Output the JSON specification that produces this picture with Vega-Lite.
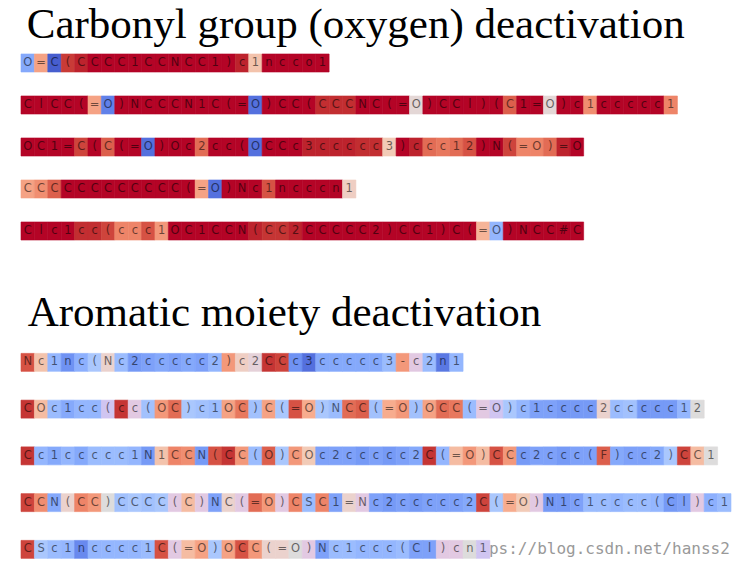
{
"$schema":"https://vega.github.io/schema/vega-lite/v6.json",
"background":"white",
"padding":{"left":20,"top":4,"right":0,"bottom":0},
"config":{"view":{"stroke":null},"concat":{"spacing":40},"title":{"font":"Liberation Serif","fontSize":43,"fontWeight":"normal","anchor":"start","color":"#000"}},
"datasets":{
"a":[
{"r":1,"i":0,"c":"O","v":-0.45},{"r":1,"i":1,"c":"=","v":0.45},{"r":1,"i":2,"c":"C","v":-0.9},{"r":1,"i":3,"c":"(","v":0.88},{"r":1,"i":4,"c":"C","v":0.95},{"r":1,"i":5,"c":"C","v":1},{"r":1,"i":6,"c":"C","v":1},{"r":1,"i":7,"c":"C","v":1},{"r":1,"i":8,"c":"1","v":1},{"r":1,"i":9,"c":"C","v":1},{"r":1,"i":10,"c":"C","v":1},{"r":1,"i":11,"c":"N","v":1},{"r":1,"i":12,"c":"C","v":1},{"r":1,"i":13,"c":"C","v":1},{"r":1,"i":14,"c":"1","v":1},{"r":1,"i":15,"c":")","v":1},{"r":1,"i":16,"c":"c","v":0.95},{"r":1,"i":17,"c":"1","v":0.25},{"r":1,"i":18,"c":"n","v":1},{"r":1,"i":19,"c":"c","v":1},{"r":1,"i":20,"c":"c","v":1},{"r":1,"i":21,"c":"o","v":1},{"r":1,"i":22,"c":"1","v":1},
{"r":2,"i":0,"c":"C","v":1},{"r":2,"i":1,"c":"l","v":1},{"r":2,"i":2,"c":"C","v":1},{"r":2,"i":3,"c":"C","v":1},{"r":2,"i":4,"c":"(","v":1},{"r":2,"i":5,"c":"=","v":0.45},{"r":2,"i":6,"c":"O","v":-0.7},{"r":2,"i":7,"c":")","v":1},{"r":2,"i":8,"c":"N","v":1},{"r":2,"i":9,"c":"C","v":1},{"r":2,"i":10,"c":"C","v":1},{"r":2,"i":11,"c":"C","v":1},{"r":2,"i":12,"c":"N","v":1},{"r":2,"i":13,"c":"1","v":1},{"r":2,"i":14,"c":"C","v":1},{"r":2,"i":15,"c":"(","v":1},{"r":2,"i":16,"c":"=","v":1},{"r":2,"i":17,"c":"O","v":-0.8},{"r":2,"i":18,"c":")","v":1},{"r":2,"i":19,"c":"C","v":1},{"r":2,"i":20,"c":"C","v":1},{"r":2,"i":21,"c":"(","v":1},{"r":2,"i":22,"c":"C","v":0.92},{"r":2,"i":23,"c":"C","v":0.92},{"r":2,"i":24,"c":"C","v":0.92},{"r":2,"i":25,"c":"N","v":1},{"r":2,"i":26,"c":"C","v":1},{"r":2,"i":27,"c":"(","v":1},{"r":2,"i":28,"c":"=","v":1},{"r":2,"i":29,"c":"O","v":0.05},{"r":2,"i":30,"c":")","v":1},{"r":2,"i":31,"c":"C","v":1},{"r":2,"i":32,"c":"C","v":1},{"r":2,"i":33,"c":"l","v":1},{"r":2,"i":34,"c":")","v":1},{"r":2,"i":35,"c":"(","v":1},{"r":2,"i":36,"c":"C","v":0.75},{"r":2,"i":37,"c":"1","v":1},{"r":2,"i":38,"c":"=","v":1},{"r":2,"i":39,"c":"O","v":0.05},{"r":2,"i":40,"c":")","v":1},{"r":2,"i":41,"c":"c","v":1},{"r":2,"i":42,"c":"1","v":0.55},{"r":2,"i":43,"c":"c","v":1},{"r":2,"i":44,"c":"c","v":1},{"r":2,"i":45,"c":"c","v":1},{"r":2,"i":46,"c":"c","v":1},{"r":2,"i":47,"c":"c","v":1},{"r":2,"i":48,"c":"1","v":0.6},
{"r":3,"i":0,"c":"O","v":1},{"r":3,"i":1,"c":"C","v":1},{"r":3,"i":2,"c":"1","v":1},{"r":3,"i":3,"c":"=","v":1},{"r":3,"i":4,"c":"C","v":0.85},{"r":3,"i":5,"c":"(","v":1},{"r":3,"i":6,"c":"C","v":0.75},{"r":3,"i":7,"c":"(","v":1},{"r":3,"i":8,"c":"=","v":1},{"r":3,"i":9,"c":"O","v":-0.8},{"r":3,"i":10,"c":")","v":1},{"r":3,"i":11,"c":"O","v":1},{"r":3,"i":12,"c":"c","v":1},{"r":3,"i":13,"c":"2","v":0.7},{"r":3,"i":14,"c":"c","v":1},{"r":3,"i":15,"c":"c","v":1},{"r":3,"i":16,"c":"(","v":1},{"r":3,"i":17,"c":"O","v":-0.8},{"r":3,"i":18,"c":"C","v":1},{"r":3,"i":19,"c":"C","v":1},{"r":3,"i":20,"c":"c","v":1},{"r":3,"i":21,"c":"3","v":0.95},{"r":3,"i":22,"c":"c","v":0.95},{"r":3,"i":23,"c":"c","v":0.95},{"r":3,"i":24,"c":"c","v":0.95},{"r":3,"i":25,"c":"c","v":0.92},{"r":3,"i":26,"c":"c","v":0.92},{"r":3,"i":27,"c":"3","v":0.2},{"r":3,"i":28,"c":")","v":1},{"r":3,"i":29,"c":"c","v":0.95},{"r":3,"i":30,"c":"c","v":0.7},{"r":3,"i":31,"c":"c","v":0.65},{"r":3,"i":32,"c":"1","v":0.7},{"r":3,"i":33,"c":"2","v":0.8},{"r":3,"i":34,"c":")","v":1},{"r":3,"i":35,"c":"N","v":1},{"r":3,"i":36,"c":"(","v":0.85},{"r":3,"i":37,"c":"=","v":0.6},{"r":3,"i":38,"c":"O","v":0.6},{"r":3,"i":39,"c":")","v":0.7},{"r":3,"i":40,"c":"=","v":0.95},{"r":3,"i":41,"c":"O","v":1},
{"r":4,"i":0,"c":"C","v":0.45},{"r":4,"i":1,"c":"C","v":0.55},{"r":4,"i":2,"c":"C","v":0.75},{"r":4,"i":3,"c":"C","v":1},{"r":4,"i":4,"c":"C","v":1},{"r":4,"i":5,"c":"C","v":1},{"r":4,"i":6,"c":"C","v":1},{"r":4,"i":7,"c":"C","v":1},{"r":4,"i":8,"c":"C","v":1},{"r":4,"i":9,"c":"C","v":1},{"r":4,"i":10,"c":"C","v":1},{"r":4,"i":11,"c":"C","v":1},{"r":4,"i":12,"c":"(","v":1},{"r":4,"i":13,"c":"=","v":0.45},{"r":4,"i":14,"c":"O","v":-0.8},{"r":4,"i":15,"c":")","v":1},{"r":4,"i":16,"c":"N","v":1},{"r":4,"i":17,"c":"c","v":1},{"r":4,"i":18,"c":"1","v":0.8},{"r":4,"i":19,"c":"n","v":1},{"r":4,"i":20,"c":"c","v":1},{"r":4,"i":21,"c":"c","v":1},{"r":4,"i":22,"c":"c","v":1},{"r":4,"i":23,"c":"n","v":1},{"r":4,"i":24,"c":"1","v":0.15},
{"r":5,"i":0,"c":"C","v":1},{"r":5,"i":1,"c":"l","v":1},{"r":5,"i":2,"c":"c","v":1},{"r":5,"i":3,"c":"1","v":1},{"r":5,"i":4,"c":"c","v":0.92},{"r":5,"i":5,"c":"c","v":0.92},{"r":5,"i":6,"c":"(","v":0.85},{"r":5,"i":7,"c":"c","v":0.6},{"r":5,"i":8,"c":"c","v":0.6},{"r":5,"i":9,"c":"c","v":0.8},{"r":5,"i":10,"c":"1","v":0.5},{"r":5,"i":11,"c":"O","v":1},{"r":5,"i":12,"c":"C","v":1},{"r":5,"i":13,"c":"1","v":1},{"r":5,"i":14,"c":"C","v":1},{"r":5,"i":15,"c":"C","v":1},{"r":5,"i":16,"c":"N","v":1},{"r":5,"i":17,"c":"(","v":0.95},{"r":5,"i":18,"c":"C","v":0.9},{"r":5,"i":19,"c":"C","v":0.9},{"r":5,"i":20,"c":"2","v":0.95},{"r":5,"i":21,"c":"C","v":1},{"r":5,"i":22,"c":"C","v":1},{"r":5,"i":23,"c":"C","v":1},{"r":5,"i":24,"c":"C","v":1},{"r":5,"i":25,"c":"C","v":1},{"r":5,"i":26,"c":"2","v":1},{"r":5,"i":27,"c":")","v":1},{"r":5,"i":28,"c":"C","v":1},{"r":5,"i":29,"c":"C","v":1},{"r":5,"i":30,"c":"1","v":1},{"r":5,"i":31,"c":")","v":1},{"r":5,"i":32,"c":"C","v":1},{"r":5,"i":33,"c":"(","v":1},{"r":5,"i":34,"c":"=","v":0.35},{"r":5,"i":35,"c":"O","v":-0.35},{"r":5,"i":36,"c":")","v":1},{"r":5,"i":37,"c":"N","v":1},{"r":5,"i":38,"c":"C","v":1},{"r":5,"i":39,"c":"C","v":1},{"r":5,"i":40,"c":"#","v":1},{"r":5,"i":41,"c":"C","v":1}
],
"b":[
{"r":6,"i":0,"c":"N","v":0.8},{"r":6,"i":1,"c":"c","v":0.25},{"r":6,"i":2,"c":"1","v":-0.35},{"r":6,"i":3,"c":"n","v":-0.6},{"r":6,"i":4,"c":"c","v":-0.4},{"r":6,"i":5,"c":"(","v":-0.2},{"r":6,"i":6,"c":"N","v":0.1},{"r":6,"i":7,"c":"c","v":-0.3},{"r":6,"i":8,"c":"2","v":-0.55},{"r":6,"i":9,"c":"c","v":-0.5},{"r":6,"i":10,"c":"c","v":-0.45},{"r":6,"i":11,"c":"c","v":-0.5},{"r":6,"i":12,"c":"c","v":-0.45},{"r":6,"i":13,"c":"c","v":-0.5},{"r":6,"i":14,"c":"2","v":-0.35},{"r":6,"i":15,"c":")","v":0.5},{"r":6,"i":16,"c":"c","v":0.15},{"r":6,"i":17,"c":"2","v":-0.05},{"r":6,"i":18,"c":"C","v":0.9},{"r":6,"i":19,"c":"C","v":0.85},{"r":6,"i":20,"c":"c","v":-0.6},{"r":6,"i":21,"c":"3","v":-0.8},{"r":6,"i":22,"c":"c","v":-0.45},{"r":6,"i":23,"c":"c","v":-0.45},{"r":6,"i":24,"c":"c","v":-0.45},{"r":6,"i":25,"c":"c","v":-0.45},{"r":6,"i":26,"c":"c","v":-0.45},{"r":6,"i":27,"c":"3","v":-0.3},{"r":6,"i":28,"c":"-","v":0.5},{"r":6,"i":29,"c":"c","v":-0.1},{"r":6,"i":30,"c":"2","v":-0.3},{"r":6,"i":31,"c":"n","v":-0.75},{"r":6,"i":32,"c":"1","v":-0.35},
{"r":7,"i":0,"c":"C","v":0.9},{"r":7,"i":1,"c":"O","v":0.3},{"r":7,"i":2,"c":"c","v":-0.3},{"r":7,"i":3,"c":"1","v":-0.45},{"r":7,"i":4,"c":"c","v":-0.35},{"r":7,"i":5,"c":"c","v":-0.35},{"r":7,"i":6,"c":"(","v":-0.15},{"r":7,"i":7,"c":"c","v":0.9},{"r":7,"i":8,"c":"c","v":-0.1},{"r":7,"i":9,"c":"(","v":-0.25},{"r":7,"i":10,"c":"O","v":0.5},{"r":7,"i":11,"c":"C","v":0.7},{"r":7,"i":12,"c":")","v":-0.2},{"r":7,"i":13,"c":"c","v":-0.25},{"r":7,"i":14,"c":"1","v":-0.3},{"r":7,"i":15,"c":"O","v":0.45},{"r":7,"i":16,"c":"C","v":0.65},{"r":7,"i":17,"c":")","v":-0.25},{"r":7,"i":18,"c":"C","v":0.45},{"r":7,"i":19,"c":"(","v":-0.2},{"r":7,"i":20,"c":"=","v":0.8},{"r":7,"i":21,"c":"O","v":0.4},{"r":7,"i":22,"c":")","v":-0.2},{"r":7,"i":23,"c":"N","v":-0.3},{"r":7,"i":24,"c":"C","v":0.7},{"r":7,"i":25,"c":"C","v":0.75},{"r":7,"i":26,"c":"(","v":-0.25},{"r":7,"i":27,"c":"=","v":0.4},{"r":7,"i":28,"c":"O","v":0.5},{"r":7,"i":29,"c":")","v":-0.25},{"r":7,"i":30,"c":"O","v":0.45},{"r":7,"i":31,"c":"C","v":0.7},{"r":7,"i":32,"c":"C","v":0.65},{"r":7,"i":33,"c":"(","v":-0.3},{"r":7,"i":34,"c":"=","v":-0.1},{"r":7,"i":35,"c":"O","v":-0.15},{"r":7,"i":36,"c":")","v":-0.2},{"r":7,"i":37,"c":"c","v":-0.35},{"r":7,"i":38,"c":"1","v":-0.5},{"r":7,"i":39,"c":"c","v":-0.5},{"r":7,"i":40,"c":"c","v":-0.55},{"r":7,"i":41,"c":"c","v":-0.55},{"r":7,"i":42,"c":"c","v":-0.55},{"r":7,"i":43,"c":"2","v":0.1},{"r":7,"i":44,"c":"c","v":-0.3},{"r":7,"i":45,"c":"c","v":-0.25},{"r":7,"i":46,"c":"c","v":-0.55},{"r":7,"i":47,"c":"c","v":-0.55},{"r":7,"i":48,"c":"c","v":-0.55},{"r":7,"i":49,"c":"1","v":-0.35},{"r":7,"i":50,"c":"2","v":0.0},
{"r":8,"i":0,"c":"C","v":0.9},{"r":8,"i":1,"c":"c","v":-0.35},{"r":8,"i":2,"c":"1","v":-0.45},{"r":8,"i":3,"c":"c","v":-0.35},{"r":8,"i":4,"c":"c","v":-0.45},{"r":8,"i":5,"c":"c","v":-0.3},{"r":8,"i":6,"c":"c","v":-0.3},{"r":8,"i":7,"c":"c","v":-0.3},{"r":8,"i":8,"c":"1","v":-0.35},{"r":8,"i":9,"c":"N","v":-0.55},{"r":8,"i":10,"c":"1","v":0.25},{"r":8,"i":11,"c":"C","v":0.6},{"r":8,"i":12,"c":"C","v":0.55},{"r":8,"i":13,"c":"N","v":-0.55},{"r":8,"i":14,"c":"(","v":0.8},{"r":8,"i":15,"c":"C","v":0.9},{"r":8,"i":16,"c":"C","v":0.5},{"r":8,"i":17,"c":"(","v":-0.3},{"r":8,"i":18,"c":"O","v":0.75},{"r":8,"i":19,"c":")","v":-0.2},{"r":8,"i":20,"c":"C","v":0.5},{"r":8,"i":21,"c":"O","v":0.2},{"r":8,"i":22,"c":"c","v":-0.5},{"r":8,"i":23,"c":"2","v":-0.5},{"r":8,"i":24,"c":"c","v":-0.5},{"r":8,"i":25,"c":"c","v":-0.55},{"r":8,"i":26,"c":"c","v":-0.5},{"r":8,"i":27,"c":"c","v":-0.55},{"r":8,"i":28,"c":"c","v":-0.5},{"r":8,"i":29,"c":"2","v":-0.45},{"r":8,"i":30,"c":"C","v":0.9},{"r":8,"i":31,"c":"(","v":-0.35},{"r":8,"i":32,"c":"=","v":0.3},{"r":8,"i":33,"c":"O","v":0.5},{"r":8,"i":34,"c":")","v":0.3},{"r":8,"i":35,"c":"C","v":0.8},{"r":8,"i":36,"c":"C","v":0.5},{"r":8,"i":37,"c":"c","v":-0.55},{"r":8,"i":38,"c":"2","v":-0.5},{"r":8,"i":39,"c":"c","v":-0.5},{"r":8,"i":40,"c":"c","v":-0.55},{"r":8,"i":41,"c":"c","v":-0.5},{"r":8,"i":42,"c":"(","v":-0.5},{"r":8,"i":43,"c":"F","v":0.75},{"r":8,"i":44,"c":")","v":-0.45},{"r":8,"i":45,"c":"c","v":-0.5},{"r":8,"i":46,"c":"c","v":-0.5},{"r":8,"i":47,"c":"2","v":-0.45},{"r":8,"i":48,"c":")","v":-0.2},{"r":8,"i":49,"c":"C","v":0.85},{"r":8,"i":50,"c":"C","v":0.3},{"r":8,"i":51,"c":"1","v":0.0},
{"r":9,"i":0,"c":"C","v":0.85},{"r":9,"i":1,"c":"C","v":0.55},{"r":9,"i":2,"c":"N","v":-0.45},{"r":9,"i":3,"c":"(","v":0.1},{"r":9,"i":4,"c":"C","v":0.6},{"r":9,"i":5,"c":"C","v":0.5},{"r":9,"i":6,"c":")","v":0.0},{"r":9,"i":7,"c":"C","v":-0.25},{"r":9,"i":8,"c":"C","v":-0.2},{"r":9,"i":9,"c":"C","v":-0.25},{"r":9,"i":10,"c":"C","v":-0.2},{"r":9,"i":11,"c":"(","v":-0.1},{"r":9,"i":12,"c":"C","v":0.3},{"r":9,"i":13,"c":")","v":-0.1},{"r":9,"i":14,"c":"N","v":-0.5},{"r":9,"i":15,"c":"C","v":0.1},{"r":9,"i":16,"c":"(","v":-0.1},{"r":9,"i":17,"c":"=","v":0.7},{"r":9,"i":18,"c":"O","v":0.5},{"r":9,"i":19,"c":")","v":-0.1},{"r":9,"i":20,"c":"C","v":0.6},{"r":9,"i":21,"c":"S","v":-0.3},{"r":9,"i":22,"c":"C","v":0.6},{"r":9,"i":23,"c":"1","v":-0.5},{"r":9,"i":24,"c":"=","v":0.1},{"r":9,"i":25,"c":"N","v":-0.1},{"r":9,"i":26,"c":"c","v":-0.5},{"r":9,"i":27,"c":"2","v":-0.55},{"r":9,"i":28,"c":"c","v":-0.5},{"r":9,"i":29,"c":"c","v":-0.55},{"r":9,"i":30,"c":"c","v":-0.5},{"r":9,"i":31,"c":"c","v":-0.5},{"r":9,"i":32,"c":"c","v":-0.5},{"r":9,"i":33,"c":"2","v":-0.45},{"r":9,"i":34,"c":"C","v":0.85},{"r":9,"i":35,"c":"(","v":-0.2},{"r":9,"i":36,"c":"=","v":0.4},{"r":9,"i":37,"c":"O","v":0.2},{"r":9,"i":38,"c":")","v":-0.1},{"r":9,"i":39,"c":"N","v":-0.55},{"r":9,"i":40,"c":"1","v":-0.55},{"r":9,"i":41,"c":"c","v":-0.5},{"r":9,"i":42,"c":"1","v":-0.3},{"r":9,"i":43,"c":"c","v":-0.3},{"r":9,"i":44,"c":"c","v":-0.35},{"r":9,"i":45,"c":"c","v":-0.3},{"r":9,"i":46,"c":"c","v":-0.3},{"r":9,"i":47,"c":"(","v":-0.35},{"r":9,"i":48,"c":"C","v":-0.55},{"r":9,"i":49,"c":"l","v":-0.5},{"r":9,"i":50,"c":")","v":-0.1},{"r":9,"i":51,"c":"c","v":-0.4},{"r":9,"i":52,"c":"1","v":-0.3},
{"r":10,"i":0,"c":"C","v":0.85},{"r":10,"i":1,"c":"S","v":-0.2},{"r":10,"i":2,"c":"c","v":-0.3},{"r":10,"i":3,"c":"1","v":-0.35},{"r":10,"i":4,"c":"n","v":-0.65},{"r":10,"i":5,"c":"c","v":-0.35},{"r":10,"i":6,"c":"c","v":-0.35},{"r":10,"i":7,"c":"c","v":-0.35},{"r":10,"i":8,"c":"c","v":-0.35},{"r":10,"i":9,"c":"1","v":-0.3},{"r":10,"i":10,"c":"C","v":0.8},{"r":10,"i":11,"c":"(","v":-0.1},{"r":10,"i":12,"c":"=","v":0.3},{"r":10,"i":13,"c":"O","v":0.45},{"r":10,"i":14,"c":")","v":-0.2},{"r":10,"i":15,"c":"O","v":0.45},{"r":10,"i":16,"c":"C","v":0.8},{"r":10,"i":17,"c":"C","v":0.5},{"r":10,"i":18,"c":"(","v":0.1},{"r":10,"i":19,"c":"=","v":0.1},{"r":10,"i":20,"c":"O","v":0.0},{"r":10,"i":21,"c":")","v":-0.1},{"r":10,"i":22,"c":"N","v":-0.5},{"r":10,"i":23,"c":"c","v":-0.3},{"r":10,"i":24,"c":"1","v":-0.3},{"r":10,"i":25,"c":"c","v":-0.35},{"r":10,"i":26,"c":"c","v":-0.35},{"r":10,"i":27,"c":"c","v":-0.35},{"r":10,"i":28,"c":"(","v":-0.3},{"r":10,"i":29,"c":"C","v":-0.5},{"r":10,"i":30,"c":"l","v":-0.5},{"r":10,"i":31,"c":")","v":-0.1},{"r":10,"i":32,"c":"c","v":-0.1},{"r":10,"i":33,"c":"n","v":0.0},{"r":10,"i":34,"c":"1","v":-0.15}
],
"w":[{"r":10,"i":33,"t":"https://blog.csdn.net/hanss2"}]
},
"vconcat":[
{
"title":{"text":"Carbonyl group (oxygen) deactivation","offset":-5,"dx":6},
"data":{"name":"a"},
"width":710,
"height":{"step":42},
"encoding":{
"x":{"field":"i","type":"ordinal","axis":null,"scale":{"domain":[0,1,2,3,4,5,6,7,8,9,10,11,12,13,14,15,16,17,18,19,20,21,22,23,24,25,26,27,28,29,30,31,32,33,34,35,36,37,38,39,40,41,42,43,44,45,46,47,48,49,50,51,52],"paddingInner":0,"paddingOuter":0}},
"y":{"field":"r","type":"ordinal","axis":null,"scale":{"paddingInner":0.57,"paddingOuter":0.285}}
},
"layer":[
{"mark":{"type":"rect","strokeWidth":0.6},
"encoding":{
"color":{"field":"v","type":"quantitative","legend":null,"scale":{"type":"linear","domain":[-1,-0.8,-0.6,-0.4,-0.2,0,0.2,0.4,0.6,0.8,1],"range":["#3b4cc0","#5470de","#6f92f3","#8db0fe","#aac7fd","#dddcdc","#f2cbb7","#f7ac8e","#ee8468","#d65244","#b40426"]}},
"stroke":{"field":"v","type":"quantitative","legend":null,"scale":{"type":"linear","domain":[-1,-0.8,-0.6,-0.4,-0.2,0,0.2,0.4,0.6,0.8,1],"range":["#3b4cc0","#5470de","#6f92f3","#8db0fe","#aac7fd","#dddcdc","#f2cbb7","#f7ac8e","#ee8468","#d65244","#b40426"]}}
}},
{"mark":{"type":"text","font":"DejaVu Sans","fontSize":11.5,"color":"#000","opacity":0.55},
"encoding":{"text":{"field":"c"}}}
]
},
{
"title":{"text":"Aromatic moiety deactivation","offset":4,"dx":7},
"width":710,
"height":{"step":46.75},
"encoding":{
"x":{"field":"i","type":"ordinal","axis":null,"scale":{"domain":[0,1,2,3,4,5,6,7,8,9,10,11,12,13,14,15,16,17,18,19,20,21,22,23,24,25,26,27,28,29,30,31,32,33,34,35,36,37,38,39,40,41,42,43,44,45,46,47,48,49,50,51,52],"paddingInner":0,"paddingOuter":0}},
"y":{"field":"r","type":"ordinal","axis":null,"scale":{"domain":[6,7,8,9,10],"paddingInner":0.615,"paddingOuter":0.3075}}
},
"layer":[
{"data":{"name":"w"},"mark":{"type":"text","font":"DejaVu Sans Mono","fontSize":16,"color":"#999999","align":"left","dx":-3},
"encoding":{"x":{"field":"i","type":"ordinal","bandPosition":0},"text":{"field":"t"}}},
{"data":{"name":"b"},"mark":{"type":"rect","strokeWidth":0.6},
"encoding":{
"color":{"field":"v","type":"quantitative","legend":null,"scale":{"type":"linear","domain":[-1,-0.8,-0.6,-0.4,-0.2,0,0.2,0.4,0.6,0.8,1],"range":["#3b4cc0","#5470de","#6f92f3","#8db0fe","#aac7fd","#dddcdc","#f2cbb7","#f7ac8e","#ee8468","#d65244","#b40426"]}},
"stroke":{"field":"v","type":"quantitative","legend":null,"scale":{"type":"linear","domain":[-1,-0.8,-0.6,-0.4,-0.2,0,0.2,0.4,0.6,0.8,1],"range":["#3b4cc0","#5470de","#6f92f3","#8db0fe","#aac7fd","#dddcdc","#f2cbb7","#f7ac8e","#ee8468","#d65244","#b40426"]}}
}},
{"data":{"name":"b"},"mark":{"type":"text","font":"DejaVu Sans","fontSize":11.5,"color":"#000","opacity":0.55},
"encoding":{"text":{"field":"c"}}}
]
}
]
}
